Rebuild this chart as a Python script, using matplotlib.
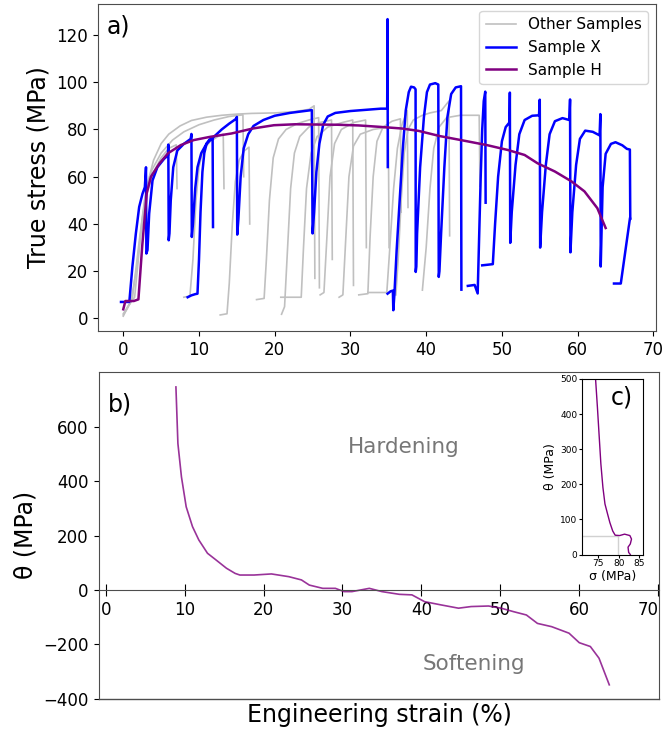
import numpy as np
import matplotlib
matplotlib.use("Agg")
import matplotlib.pyplot as plt

nan = np.nan

# ---------------- Panel a) data ----------------
# Sample X (NaN separates recorded segments)
x_strain = [-0.3, 0.8, 1.2, 1.66, 2.1, 2.54, 2.85, 3.0, 3.05, 3.2, 3.42, 3.86, 4.5, 5.4, 5.9, 5.95, 6.0, 6.1, 6.27,
            6.6, 7.14, 8.0, 8.9, 9.0, 9.05, 9.2, 9.5, 9.8, 10.3, 11.0, 12.0, 13.0, 14.0, 14.9, 15.0, 15.05, 15.2,
            15.5, 15.9, 16.5, 17.2, 18.5, 20.0, 22.0, 24.0, 24.9, 25.0, 25.2, 25.5, 25.9, 26.4, 27.0, 28.0, 30.0,
            32.0, 34.0, 34.85, 34.9, 34.93, nan,
            8.5, 9.0, 9.5, 9.8, 10.0, 10.2, 10.45, 10.7, 11.0, 11.4, 11.8, 11.85, nan,
            34.9, 35.3, 35.6, 35.66, 35.8, 36.1, 36.5, 36.9, 37.3, 37.7, 38.0, 38.4, 38.6, 38.62, 38.7, 38.8, 39.2,
            39.7, 40.1, 40.5, 41.2, 41.6, 41.66, 41.75, 41.97, 42.4, 42.8, 43.3, 43.9, 44.6, 44.65, nan,
            45.5, 46.4, 46.8, 47.0, 47.2, 47.4, 47.6, 47.8, 47.85, nan,
            47.4, 48.8, 49.1, 49.5, 50.0, 50.5, 51.0, 51.05, 51.1, 51.3, 51.8, 52.3, 53.0, 54.0, 54.9, 55.0, 55.05,
            55.3, 55.8, 56.3, 57.0, 58.0, 58.9, 59.0, 59.05, 59.3, 59.8, 60.3, 61.0, 62.0, 62.9, 63.0, 63.05, 63.3,
            63.7, 64.4, 65.0, 65.9, 66.5, 66.9, 66.95, nan,
            64.8, 65.7, 66.9]
x_stress = [7.0, 7.0, 21.8, 35.9, 47.2, 52.8, 55.6, 64.0, 27.5, 29.0, 44.4, 58.4, 64.0, 67.6, 69.0, 73.6, 33.1, 36.0,
            50.0, 64.0, 71.1, 73.9, 76.0, 78.1, 34.5, 40.0, 55.0, 64.0, 70.0, 74.0, 77.0, 80.0, 82.5, 84.5, 85.3,
            35.5, 42.0, 60.0, 72.0, 78.0, 81.5, 84.0, 85.8, 87.0, 87.8, 88.2, 36.0, 45.0, 62.0, 74.0, 82.0, 85.5,
            87.0, 87.8, 88.3, 88.8, 88.8, 126.7, 64.1, nan,
            9.0, 9.8, 10.3, 10.5, 25.0, 45.0, 62.0, 70.0, 74.0, 75.8, 76.0, 38.7, nan,
            10.5, 11.5, 11.8, 3.5, 10.0, 28.9, 50.0, 71.2, 88.0, 95.8, 98.1, 97.8, 97.0, 19.7, 22.0, 35.9, 64.0,
            85.2, 95.8, 99.0, 99.6, 99.0, 17.6, 20.0, 35.9, 64.0, 85.2, 95.0, 97.8, 98.3, 12.2, nan,
            13.8, 14.2, 10.6, 35.9, 60.0, 80.0, 92.0, 96.0, 49.0, nan,
            22.5, 23.0, 40.0, 60.0, 75.0, 81.0, 83.0, 95.6, 32.0, 45.0, 65.0, 78.0, 84.0, 85.8, 86.0, 92.6, 30.0,
            45.0, 65.0, 78.0, 83.5, 84.8, 84.0, 92.7, 28.0, 45.0, 65.0, 76.0, 79.5, 79.0, 77.5, 86.5, 22.0, 55.6,
            69.7, 73.9, 74.6, 73.3, 71.8, 71.5, 42.2, nan,
            14.8, 14.8, 42.2]

# Sample H
h_strain = [0.0, 0.28, 1.4, 2.0, 2.5, 3.1, 3.65, 4.8, 5.9, 7.6, 9.3, 11.5, 14.3, 17.1, 19.9, 22.7, 25.0, 28.3,
            31.1, 33.9, 36.8, 39.0, 41.8, 44.6, 48.0, 50.8, 53.0, 54.7, 57.0, 59.2, 60.9, 62.6, 63.7]
h_stress = [3.9, 7.4, 7.4, 8.1, 30.6, 53.0, 60.0, 65.7, 69.9, 73.4, 75.5, 76.9, 78.3, 80.4, 81.8, 82.2, 82.1, 82.0,
            81.7, 81.1, 80.4, 79.4, 77.2, 75.5, 73.4, 71.3, 69.2, 65.7, 62.2, 58.0, 53.8, 46.7, 38.3]

# Other samples (strain / stress)
o1_strain = [0.0, 0.5, 1.0, 1.8, 2.5, 3.2, 4.0, 5.0, 6.0, 7.5, 9.0, 11.0, 13.0, 15.0, 17.0, 20.0, 22.5, 24.5, 25.2, 25.3]
o1_stress = [1.5, 4.0, 7.0, 22.0, 42.0, 57.0, 67.0, 74.0, 78.0, 81.5, 83.8, 85.2, 86.0, 86.5, 86.8, 87.0, 87.5, 88.5, 90.0, 17.0]
o2_strain = [0.0, 0.6, 1.2, 2.0, 2.8, 3.8, 5.0, 6.5, 8.0, 10.0, 12.0, 14.0, 15.8, 15.9]
o2_stress = [1.0, 5.0, 8.0, 30.0, 50.0, 63.0, 70.0, 75.5, 79.0, 82.0, 84.0, 85.5, 86.2, 60.0]
o3_strain = [0.0, 0.8, 1.5, 2.3, 3.0, 4.0, 5.0, 6.0, 7.0, 7.1]
o3_stress = [2.0, 6.0, 9.0, 35.0, 52.0, 62.0, 68.0, 72.0, 73.5, 55.0]
o4_strain = [8.0, 8.8, 9.2, 9.6, 10.0, 10.5, 11.5, 12.5, 13.2, 13.3]
o4_stress = [9.0, 9.5, 25.0, 50.0, 64.0, 71.0, 75.0, 77.0, 78.0, 55.0]
o5_strain = [12.8, 13.7, 14.0, 14.4, 14.8, 15.3, 16.0, 16.6, 16.7]
o5_stress = [1.5, 2.0, 15.0, 40.0, 58.0, 67.0, 71.0, 72.5, 40.0]
o6_strain = [17.6, 18.6, 18.9, 19.3, 19.8, 20.5, 21.5, 23.0, 24.5, 25.8, 25.9]
o6_stress = [8.0, 8.5, 25.0, 50.0, 68.0, 76.0, 80.0, 82.5, 84.0, 85.0, 13.0]
o7_strain = [20.9, 21.3, 21.7, 22.1, 22.6, 23.3, 24.5, 26.0, 27.5, 27.6]
o7_stress = [1.8, 5.0, 30.0, 55.0, 70.0, 77.0, 81.0, 83.0, 84.0, 25.0]
o8_strain = [20.8, 23.5, 23.8, 24.2, 24.8, 25.6, 27.0, 29.0, 30.3, 30.4]
o8_stress = [9.0, 9.0, 30.0, 55.0, 70.0, 77.0, 81.0, 83.0, 84.0, 14.0]
o9_strain = [26.0, 26.5, 26.9, 27.3, 27.9, 28.8, 30.5, 32.0, 32.1]
o9_stress = [10.0, 11.0, 35.0, 60.0, 74.0, 80.0, 83.0, 84.0, 30.0]
o10_strain = [28.5, 29.0, 29.4, 29.8, 30.4, 31.3, 33.0, 35.0, 35.1]
o10_stress = [9.0, 10.0, 35.0, 60.0, 73.0, 78.0, 80.0, 81.0, 30.0]
o11_strain = [31.1, 32.3, 32.6, 33.0, 33.5, 34.3, 35.5, 36.6, 36.7]
o11_stress = [10.0, 10.5, 35.0, 60.0, 75.0, 81.0, 83.5, 84.5, 45.0]
o12_strain = [32.3, 34.8, 35.2, 35.7, 36.2, 36.8, 37.5, 37.6]
o12_stress = [11.0, 11.0, 30.0, 55.0, 72.0, 82.0, 88.0, 47.0]
o13_strain = [39.5, 40.0, 40.5, 41.0, 41.7, 42.7, 44.5, 47.0, 47.1]
o13_stress = [12.0, 30.0, 55.0, 72.0, 81.0, 85.0, 86.0, 86.0, 56.0]
o14_strain = [36.0, 36.3, 36.7, 37.1, 37.6, 38.3, 39.5, 40.5, 42.0, 43.0, 43.1]
o14_stress = [10.0, 25.0, 50.0, 70.0, 80.0, 84.0, 86.0, 87.0, 88.0, 92.0, 35.0]

# ---------------- Panel b) data ----------------
t_strain = [8.9, 9.15, 9.6, 10.2, 11.0, 11.8, 12.9, 14.0, 15.3, 16.4, 17.0, 18.8, 21.0, 23.2, 24.8, 25.8, 27.5,
            29.1, 30.2, 31.2, 33.4, 35.0, 37.2, 38.8, 40.4, 42.5, 44.7, 46.3, 48.5, 50.1, 51.7, 53.3, 54.7, 56.5,
            58.7, 60.0, 61.4, 62.5, 63.8]
t_theta = [747, 539, 416, 306, 233, 184, 135, 110, 80, 61, 55, 55, 59, 49, 37, 18, 6, 6, -6, -6, 6, -6, -16, -18,
           -43, -55, -67, -61, -59, -67, -80, -92, -123, -135, -159, -194, -208, -251, -349]

# ---------------- Panel c) data ----------------
c_stress = [74.3, 74.75, 75.2, 75.6, 76.1, 76.6, 77.25, 77.8, 78.5, 79.1, 80.2, 81.4, 82.7, 83.1, 82.8, 82.25, 82.4, 82.8]
c_theta = [500, 420, 334, 258, 191, 144, 115, 91, 67, 55, 54, 58, 54, 44, 30, 21, 6, 0]
knee_stress = 79.75
knee_theta = 53

others = [(o1_strain, o1_stress), (o2_strain, o2_stress), (o3_strain, o3_stress), (o4_strain, o4_stress),
          (o5_strain, o5_stress), (o6_strain, o6_stress), (o7_strain, o7_stress), (o8_strain, o8_stress),
          (o9_strain, o9_stress), (o10_strain, o10_stress), (o11_strain, o11_stress), (o12_strain, o12_stress),
          (o13_strain, o13_stress), (o14_strain, o14_stress)]

spine_col = "0.3"
fig = plt.figure(figsize=(6.66, 7.33), dpi=100)

# ---- a)
ax1 = fig.add_axes([0.147, 0.5484, 0.838, 0.4468])
for i, (s, v) in enumerate(others):
    ax1.plot(s, v, color="#c0c0c0", lw=1.2, label="Other Samples" if i == 0 else None, zorder=1)
ax1.plot(x_strain, x_stress, color="blue", lw=1.8, label="Sample X", zorder=2)
ax1.plot(h_strain, h_stress, color="purple", lw=1.8, label="Sample H", zorder=3)
ax1.set_xlim(-3.35, 70.35)
ax1.set_ylim(-5.3, 133.3)
ax1.set_xticks(range(0, 71, 10))
ax1.set_yticks(range(0, 121, 20))
ax1.tick_params(labelsize=12)
ax1.set_ylabel("True stress (MPa)", fontsize=17)
ax1.legend(loc="upper right", fontsize=11)
ax1.text(0.016, 0.965, "a)", transform=ax1.transAxes, fontsize=17, ha="left", va="top")
for sp in ax1.spines.values():
    sp.set_color(spine_col)

# ---- b)
ax2 = fig.add_axes([0.148, 0.0468, 0.8415, 0.4457])
ax2.plot(t_strain, t_theta, color="purple", lw=1.2, alpha=0.8)
ax2.set_xlim(-0.9, 70.1)
ax2.set_ylim(-400, 802)
ax2.set_xticks(range(0, 71, 10))
ax2.set_yticks(range(-400, 601, 200))
ax2.spines["bottom"].set_position(("data", 0))
ax2.plot([0, 1], [0, 0], transform=ax2.transAxes, color=spine_col, lw=1.0, clip_on=False)
ax2.tick_params(axis="x", direction="inout", length=9, labelsize=12)
ax2.tick_params(axis="y", labelsize=12)
ax2.xaxis.get_major_ticks()[-1].label1.set_horizontalalignment("right")
ax2.set_ylabel("θ (MPa)", fontsize=17)
ax2.set_xlabel("Engineering strain (%)", fontsize=17)
ax2.xaxis.set_label_coords(0.502, -0.012)
ax2.text(0.016, 0.936, "b)", transform=ax2.transAxes, fontsize=17, ha="left", va="top")
ax2.text(37.8, 525, "Hardening", color="#777777", fontsize=15.5, ha="center", va="center")
ax2.text(46.7, -271, "Softening", color="#777777", fontsize=15.5, ha="center", va="center")
for sp in ax2.spines.values():
    sp.set_color(spine_col)

# ---- c) inset
ax3 = fig.add_axes([0.874, 0.2435, 0.092, 0.2395])
ax3.set_xlim(71, 86)
ax3.set_ylim(0, 500)
ax3.hlines(knee_theta, 71, knee_stress, color="0.82", lw=1.0)
ax3.vlines(knee_stress, 0, knee_theta, color="0.82", lw=1.0)
ax3.plot(c_stress, c_theta, color="purple", lw=1.0)
ax3.set_xticks([75, 80, 85])
ax3.set_yticks(range(0, 501, 100))
ax3.tick_params(labelsize=6.5, length=2, pad=1.5)
ax3.set_xlabel("σ (MPa)", fontsize=9, labelpad=1)
ax3.set_ylabel("θ (MPa)", fontsize=9, labelpad=2)
ax3.text(0.47, 0.96, "c)", transform=ax3.transAxes, fontsize=17, ha="left", va="top")

fig.savefig("out.png", dpi=100)
